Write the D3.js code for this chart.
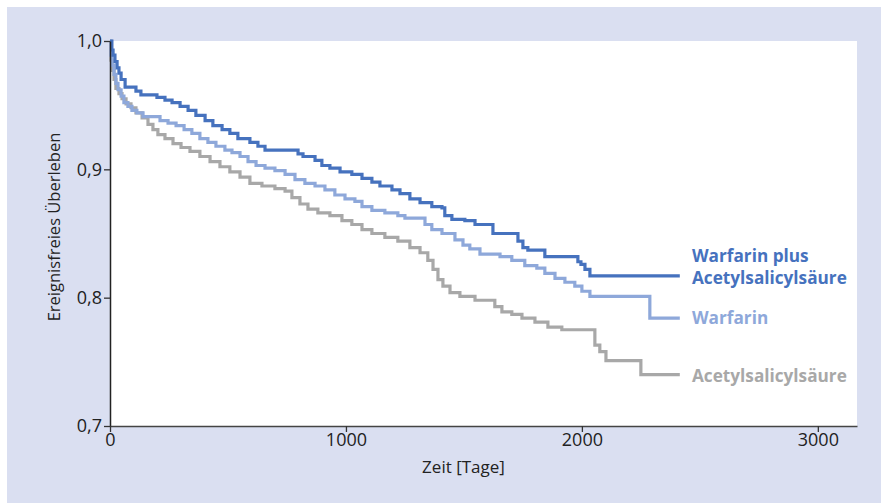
<!DOCTYPE html>
<html>
<head>
<meta charset="utf-8">
<script src="https://cdn.jsdelivr.net/npm/d3@7"></script>
<style>
  body { margin: 0; background: #fff; }
  text { font-family: "Open Sans", "Noto Sans", sans-serif; }
</style>
</head>
<body>
<svg id="chart" width="881" height="503" viewBox="0 0 881 503"></svg>
<script>
// Warfarin plus Acetylsalicylsäure
const combo_days = [0,8,13,21,30,38,47,64,110,131,199,233,263,297,331,364,403,436,475,508,542,593,627,657,797,818,869,898,932,975,1025,1068,1110,1144,1195,1229,1271,1314,1364,1407,1419,1449,1504,1547,1623,1729,1750,1771,1843,1983,1996,2013,2034,2415]
const combo_surv = [1.000,0.993,0.989,0.984,0.979,0.975,0.970,0.964,0.961,0.958,0.956,0.954,0.952,0.949,0.946,0.942,0.938,0.934,0.931,0.928,0.924,0.921,0.918,0.915,0.912,0.910,0.907,0.903,0.901,0.898,0.896,0.893,0.890,0.887,0.884,0.881,0.877,0.874,0.871,0.870,0.864,0.861,0.860,0.857,0.850,0.844,0.839,0.837,0.832,0.828,0.826,0.822,0.817,0.817]

// Warfarin
const warf_days = [0,4,8,17,25,34,47,59,76,93,114,140,212,246,280,314,347,381,415,449,487,517,551,585,619,657,699,742,784,826,869,911,953,996,1038,1068,1110,1165,1220,1250,1335,1364,1407,1462,1496,1525,1568,1653,1703,1758,1809,1843,1886,1928,1970,2000,2034,2288,2415]
const warf_surv = [1.000,0.989,0.981,0.974,0.967,0.962,0.957,0.952,0.949,0.946,0.944,0.941,0.938,0.936,0.934,0.931,0.928,0.924,0.921,0.918,0.915,0.913,0.910,0.906,0.903,0.901,0.899,0.896,0.892,0.889,0.887,0.884,0.880,0.877,0.875,0.871,0.868,0.866,0.864,0.862,0.857,0.853,0.850,0.845,0.841,0.838,0.834,0.832,0.829,0.825,0.823,0.819,0.815,0.812,0.809,0.805,0.801,0.784,0.784]

// Acetylsalicylsäure
const ass_days = [0,4,8,17,25,38,51,68,89,110,136,161,182,203,233,267,301,339,381,424,466,508,551,593,644,699,742,771,805,839,881,932,983,1025,1068,1110,1165,1220,1271,1314,1347,1369,1390,1411,1441,1483,1547,1631,1661,1703,1746,1801,1856,1915,2055,2076,2102,2250,2415]
const ass_surv = [1.000,0.985,0.977,0.970,0.963,0.959,0.955,0.951,0.948,0.944,0.940,0.935,0.931,0.927,0.924,0.920,0.917,0.914,0.910,0.906,0.902,0.898,0.894,0.889,0.887,0.885,0.883,0.878,0.873,0.869,0.866,0.864,0.860,0.857,0.853,0.850,0.847,0.844,0.839,0.835,0.829,0.822,0.814,0.809,0.804,0.801,0.798,0.793,0.789,0.787,0.784,0.781,0.777,0.775,0.763,0.758,0.751,0.740,0.740]

const series_names = [["Warfarin plus", "Acetylsalicylsäure"], ["Warfarin"], ["Acetylsalicylsäure"]]
const series_colors = ["#4672be", "#8ea8da", "#a8a8a8"]
const y_ticks = [0.7, 0.8, 0.9, 1.0]
const x_ticks = [0, 1000, 2000, 3000]

const svg = d3.select("#chart")
const width = parseInt(svg.attr("viewBox").split(' ')[2])
const height = parseInt(svg.attr("viewBox").split(' ')[3])

// background panel
svg.append("rect")
    .attr("x", 7).attr("y", 7)
    .attr("width", width - 7).attr("height", height - 7)
    .attr("fill", "#dadff1")

const left = 110, top_ = 41, right = 857, bottom = 426

svg.append("rect")
    .attr("x", left).attr("y", top_)
    .attr("width", right - left).attr("height", bottom - top_)
    .attr("fill", "#fff")

const x = d3.scaleLinear().domain([0, 3166]).range([left, right])
const y = d3.scaleLinear().domain([0.7, 1.0]).range([bottom, top_])

const de = d3.formatLocale({decimal: ",", thousands: ".", grouping: [3], currency: ["", "€"]})

const data = [
    combo_days.map((d, i) => ({t: d, v: combo_surv[i]})),
    warf_days.map((d, i) => ({t: d, v: warf_surv[i]})),
    ass_days.map((d, i) => ({t: d, v: ass_surv[i]}))
]

const line = d3.line()
    .x(d => x(d.t))
    .y(d => y(d.v))
    .curve(d3.curveStepAfter)

// draw lowest first so dark blue is on top
for (let i = 2; i >= 0; i--) {
    svg.append("path")
        .datum(data[i])
        .attr("d", line)
        .attr("fill", "none")
        .attr("stroke", series_colors[i])
        .attr("stroke-width", 3.2)
}

// axes
const yAxis = svg.append("g")
    .attr("transform", `translate(${left},0)`)
    .call(d3.axisLeft(y).tickValues(y_ticks).tickFormat(de.format(".1f")).tickSize(6).tickSizeOuter(0))
const xAxis = svg.append("g")
    .attr("transform", `translate(0,${bottom})`)
    .call(d3.axisBottom(x).tickValues(x_ticks).tickFormat(d3.format("d")).tickSize(6).tickSizeOuter(0))

yAxis.select(".domain").attr("stroke", "#222").attr("stroke-width", 1.5)
xAxis.select(".domain").attr("stroke", "#444").attr("stroke-width", 1.5)
svg.selectAll(".tick line").attr("stroke", "#333").attr("stroke-width", 1.3)
yAxis.selectAll(".tick text").attr("font-size", 18).attr("fill", "#222").attr("x", -8)
    .style("font-family", "'Open Sans', sans-serif")
xAxis.selectAll(".tick text").attr("font-size", 18).attr("fill", "#222").attr("y", 7)
    .style("font-family", "'Open Sans', sans-serif")

// axis titles
svg.append("text")
    .attr("transform", `translate(60,227) rotate(-90)`)
    .attr("text-anchor", "middle")
    .attr("font-size", 16.5)
    .attr("fill", "#222")
    .text("Ereignisfreies Überleben")

svg.append("text")
    .attr("x", (left + 817) / 2)
    .attr("y", 473)
    .attr("text-anchor", "middle")
    .attr("font-size", 17)
    .attr("fill", "#222")
    .text("Zeit [Tage]")

// end labels
const label_y = [[262, 284], [324], [382]]
series_names.forEach(function (names, i) {
    names.forEach(function (n, j) {
        svg.append("text")
            .attr("x", 692)
            .attr("y", label_y[i][j])
            .attr("font-size", 17.2)
            .attr("font-weight", "bold")
            .attr("fill", series_colors[i])
            .text(n)
    })
})
</script>
</body>
</html>
